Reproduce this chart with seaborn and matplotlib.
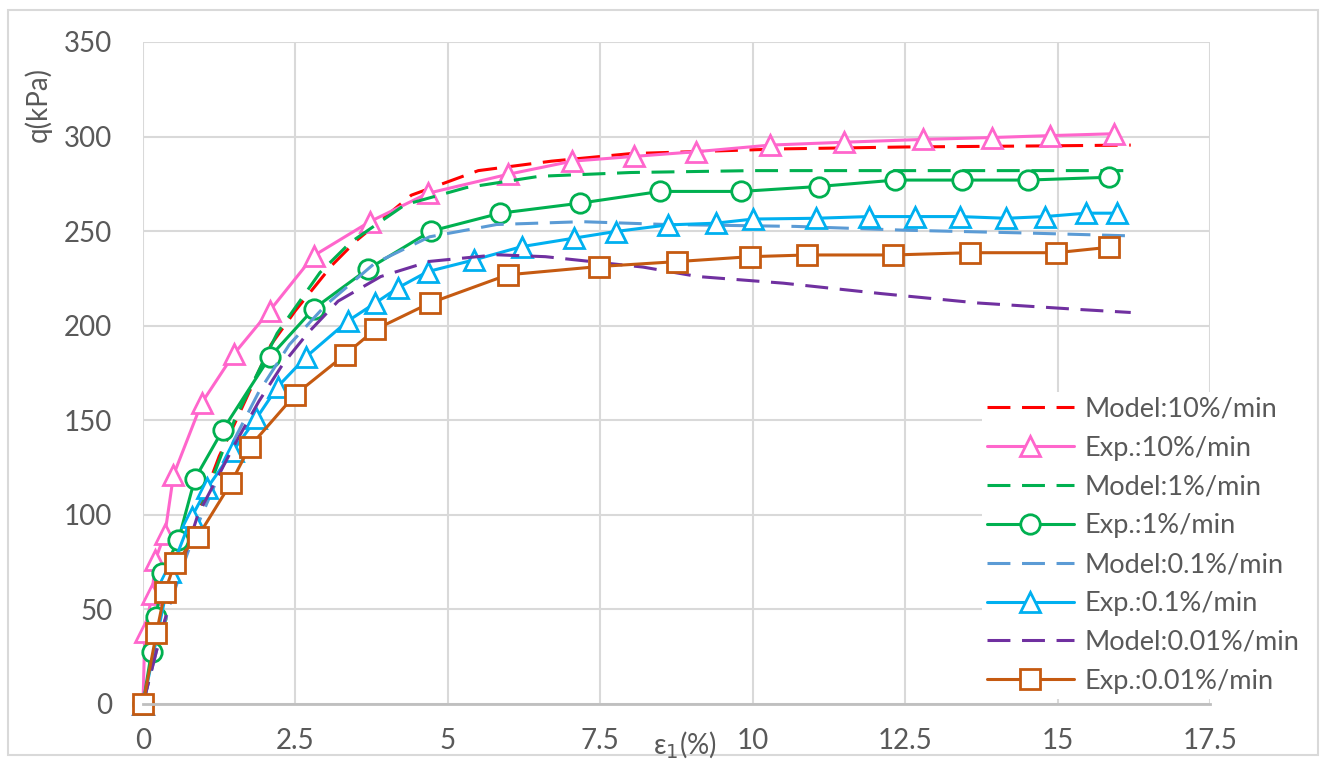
import seaborn as sns
import matplotlib.pyplot as plt
import matplotlib.patches as mpatches

# Model curves (dashed)
strain_m10 = [0, 0.3, 0.6, 0.9, 1.25, 1.5, 2.1, 2.5, 3.1, 3.5, 4.4, 5.5, 6.7, 8.0, 10.5, 12.5, 14.5, 16.2]
q_m10 = [0, 42, 72, 101, 131, 148, 190, 208, 232, 245, 269, 282, 287, 291, 293.5, 294.5, 295, 295.5]

strain_m1 = [0, 0.3, 0.6, 0.9, 1.5, 2.2, 2.9, 3.4, 4.3, 5.3, 6.5, 8.0, 10.0, 12.5, 16.2]
q_m1 = [0, 40, 70, 99, 150, 196, 228, 244, 264, 273, 279, 281, 282, 282, 282]

strain_m01 = [0, 0.3, 0.6, 0.9, 1.5, 1.9, 2.4, 3.0, 3.8, 4.7, 5.8, 7.2, 8.6, 10.7, 12.5, 14.5, 16.2]
q_m01 = [0, 38, 68, 95, 140, 165, 190, 211, 233, 247, 253.5, 255, 253.5, 252.5, 250.5, 249, 247.5]

strain_m001 = [0, 0.3, 0.5, 0.9, 1.5, 1.9, 2.3, 2.7, 3.2, 3.9, 4.7, 5.8, 6.6, 8.2, 9.1, 10.5, 12.1, 13.7, 15.4, 16.2]
q_m001 = [0, 38, 60, 100, 137, 160, 180, 196, 213, 226, 234, 237.5, 236.5, 231, 226, 222.5, 217, 212, 208.5, 207]

# Experimental data (markers)
strain_e10 = [0, 0.03, 0.15, 0.2, 0.36, 0.5, 0.96, 1.49, 2.08, 2.8, 3.72, 4.67, 5.98, 7.04, 8.05, 9.07, 10.29,
              11.49, 12.8, 13.93, 14.87, 15.92]
q_e10 = [0, 38, 58, 76, 90, 121, 159, 185, 208, 237, 255, 270, 280, 287, 289.5, 292, 295.5,
         297, 298.5, 299.5, 300.5, 301.5]

strain_e1 = [0, 0.14, 0.22, 0.31, 0.58, 0.85, 1.31, 2.08, 2.8, 3.69, 4.72, 5.86, 7.17, 8.48, 9.81, 11.08,
             12.34, 13.43, 14.52, 15.85]
q_e1 = [0, 27.7, 46, 69, 86.7, 119, 145, 183.5, 209, 230, 250, 259.5, 264.8, 271, 271, 273.6,
        277, 277, 277, 278.5]

strain_e01 = [0, 0.45, 0.8, 1.05, 1.48, 1.86, 2.21, 2.68, 3.36, 3.81, 4.18, 4.67, 5.43, 6.21, 7.07, 7.75,
              8.61, 9.39, 10.01, 11.03, 11.9, 12.66, 13.4, 14.16, 14.79, 15.47, 15.98]
q_e01 = [0, 70, 99, 114, 134, 151, 167.8, 183.7, 202.5, 212, 220, 228.6, 234.8, 241.8, 246.3, 249.8,
         253.3, 254.2, 256.4, 256.8, 257.7, 257.7, 257.7, 256.8, 257.7, 259.5, 259.5]

strain_e001 = [0, 0.22, 0.36, 0.52, 0.9, 1.44, 1.75, 2.49, 3.31, 3.81, 4.7, 5.98, 7.48, 8.76, 9.96,
               10.89, 12.3, 13.56, 14.98, 15.85]
q_e001 = [0, 37.4, 59.4, 74.4, 88.5, 116.7, 136, 163.4, 184.6, 198, 211.9, 226.9, 231.3, 233.9, 236.5,
          237.4, 237.4, 238.6, 238.6, 241.5]

series = [
    ("Model:10%/min", strain_m10, q_m10, "#FF0000", None),
    ("Exp.:10%/min", strain_e10, q_e10, "#FF66CC", "^"),
    ("Model:1%/min", strain_m1, q_m1, "#00B050", None),
    ("Exp.:1%/min", strain_e1, q_e1, "#00B050", "o"),
    ("Model:0.1%/min", strain_m01, q_m01, "#5B9BD5", None),
    ("Exp.:0.1%/min", strain_e01, q_e01, "#00B0F0", "^"),
    ("Model:0.01%/min", strain_m001, q_m001, "#7030A0", None),
    ("Exp.:0.01%/min", strain_e001, q_e001, "#C55A11", "s"),
]

sns.set_theme(style="white")
plt.rcParams['font.family'] = ['Lato', 'DejaVu Sans']
text_grey = "#595959"

fig = plt.figure(figsize=(13.26, 7.63), dpi=100)
ax = fig.add_axes([143 / 1326, 1 - 704 / 763, (1210 - 143) / 1326, (704 - 42) / 763])

for label, xs, ys, color, marker in series:
    if marker is None:
        sns.lineplot(x=xs, y=ys, ax=ax, color=color, lw=2.2, label=label, sort=False, clip_on=False)
        ax.lines[-1].set_dashes((7.5, 3.8))
    else:
        sns.lineplot(x=xs, y=ys, ax=ax, color=color, lw=2.2, label=label, sort=False, clip_on=False,
                     marker=marker, markersize=14, markerfacecolor="white",
                     markeredgecolor=color, markeredgewidth=2)

ax.set_xlim(0, 17.5)
ax.set_ylim(0, 350)
ax.set_xticks([0, 2.5, 5, 7.5, 10, 12.5, 15, 17.5])
ax.set_xticklabels(["0", "2.5", "5", "7.5", "10", "12.5", "15", "17.5"])
ax.set_yticks(range(0, 351, 50))
ax.grid(True, color="#D9D9D9", lw=1.5)
ax.set_axisbelow(True)
for s in ["top", "right", "left"]:
    ax.spines[s].set_visible(False)
ax.spines["bottom"].set_color("#BFBFBF")
ax.spines["bottom"].set_linewidth(2)
ax.tick_params(axis="both", length=0, labelsize=20, colors=text_grey)
ax.tick_params(axis="x", pad=17)
ax.tick_params(axis="y", pad=22)
ax.set_xlabel("")
ax.set_ylabel("")

fig.text(38 / 1326, 1 - 105 / 763, "q(kPa)", rotation=90, ha="center", va="center",
         fontsize=20, color=text_grey)
fig.text(685 / 1326, 1 - 745 / 763, "ε$_{1}$(%)", ha="center", va="center",
         fontsize=20, color=text_grey)

ax.get_legend().remove()
handles, labels = ax.get_legend_handles_labels()
leg = fig.legend(handles, labels, loc="upper left", bbox_to_anchor=(968 / 1326, 1 - 378 / 763),
                 fontsize=19.5, frameon=True, facecolor="white", edgecolor="none", framealpha=1,
                 handlelength=3.2, labelspacing=0.51, borderpad=0.2, handletextpad=0.4,
                 fancybox=False)
for t in leg.get_texts():
    t.set_color(text_grey)

fig.patches.append(mpatches.Rectangle((8 / 1326, 8 / 763), 1310 / 1326, 745 / 763,
                                      transform=fig.transFigure, fill=False,
                                      edgecolor="#D9D9D9", lw=1.5))

fig.savefig("out.png", dpi=100)
